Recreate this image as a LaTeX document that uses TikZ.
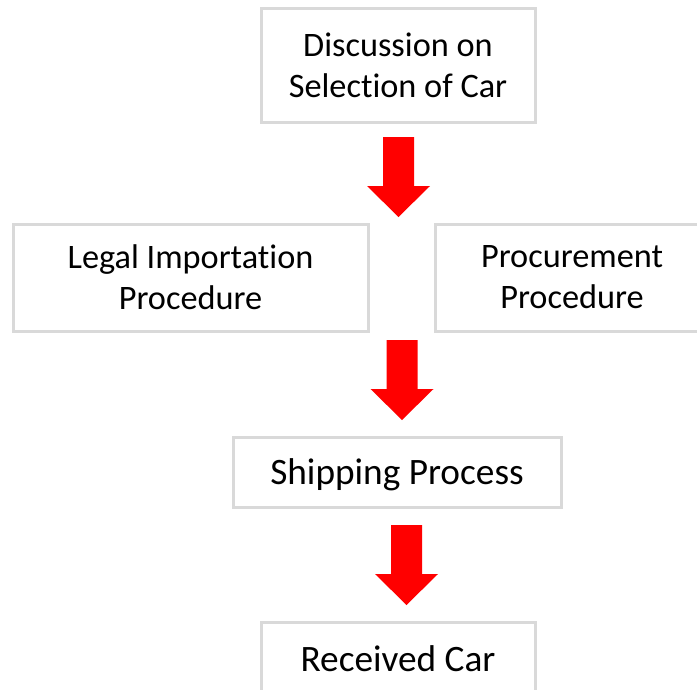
\documentclass[tikz,border=0pt]{standalone}
\usepackage{fontspec}
\setmainfont[Ligatures=NoCommon]{Carlito}
\definecolor{boxgray}{HTML}{D9D9D9}
\definecolor{arrred}{HTML}{FF0000}
\tikzset{
  x=1pt,y=-1pt,
  box/.style={draw=boxgray,line width=3pt,fill=white,inner sep=0pt,align=center,
    font=\fontsize{34.3}{41}\selectfont,text=black},
  bigbox/.style={box,font=\fontsize{37.3}{44}\selectfont,text height=24pt,text depth=0pt},
  pics/blockarrow/.style={code={
    \fill[arrred] (-15.5,0) -- (15.5,0) -- (15.5,49) -- (31.5,49) -- (0,80) -- (-31.5,49) -- (-15.5,49) -- cycle;
  }}
}
\begin{document}
\begin{tikzpicture}
\useasboundingbox (0,0) rectangle (697,689);
\clip (0,0) rectangle (697,689);
\node[box,minimum width=274pt,minimum height=114pt] (disc) at (398,65) {Discussion on\\Selection of Car};
\node[box,minimum width=355pt,minimum height=107pt] (legal) at (190.5,277.5) {Legal Importation\\Procedure};
\node[box,minimum width=274pt,minimum height=107pt] (proc) at (572,277.5) {Procurement\\Procedure};
\node[bigbox,minimum width=328pt,minimum height=70pt] (ship) at (397,472) {Shipping Process};
\node[bigbox,minimum width=274pt,minimum height=74pt] (recv) at (398,659) {Received Car};
\coordinate (a1) at (398.5,137);
\coordinate (a2) at (402,340);
\coordinate (a3) at (406.5,525);
\pic at (a1) {blockarrow};
\pic at (a2) {blockarrow};
\pic at (a3) {blockarrow};
\end{tikzpicture}
\end{document}
